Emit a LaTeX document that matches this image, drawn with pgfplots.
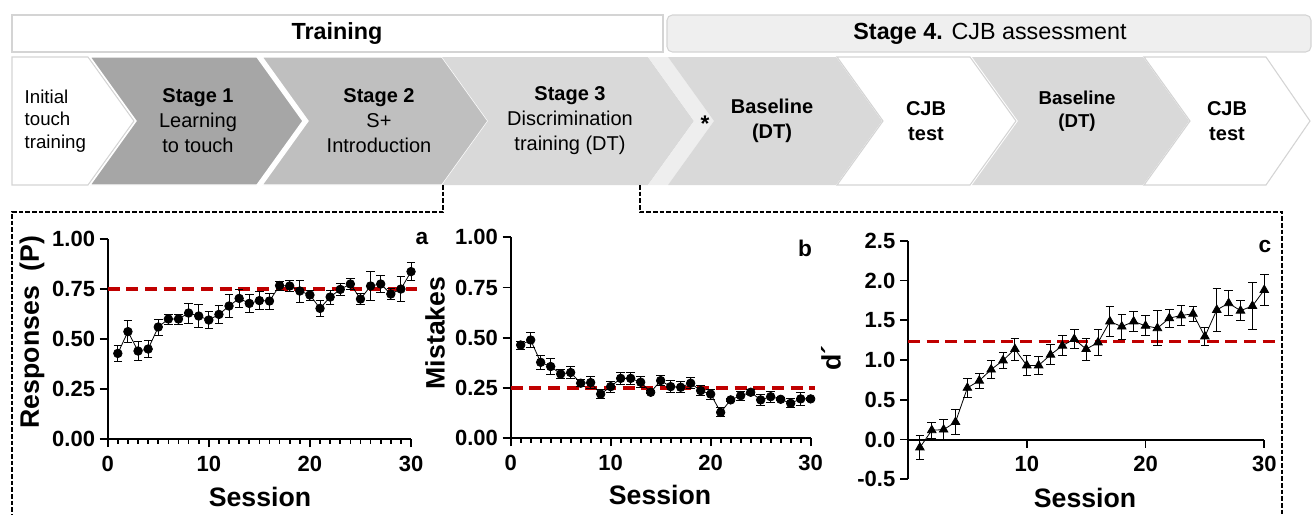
\documentclass[border=0pt]{standalone}
\usepackage{fontspec}
\setmainfont{Liberation Sans}
\usepackage{pgfplots}
\usepackage{pgfplotstable}
\pgfplotsset{compat=1.18}
\definecolor{refred}{HTML}{C00000}
\definecolor{gA}{HTML}{A6A6A6}
\definecolor{gB}{HTML}{BFBFBF}
\definecolor{gC}{HTML}{D9D9D9}
\definecolor{gD}{HTML}{EEEEEE}
\definecolor{gE}{HTML}{EFEFEF}
\definecolor{edge}{HTML}{D4D4D4}

\pgfplotstableread{
s m e
1 0.428 0.042
2 0.537 0.054
3 0.440 0.047
4 0.450 0.042
5 0.560 0.040
6 0.600 0.025
7 0.600 0.025
8 0.630 0.050
9 0.615 0.058
10 0.595 0.043
11 0.623 0.044
12 0.665 0.056
13 0.703 0.045
14 0.678 0.043
15 0.692 0.044
16 0.690 0.040
17 0.767 0.023
18 0.765 0.026
19 0.740 0.055
20 0.720 0.025
21 0.653 0.040
22 0.710 0.035
23 0.748 0.029
24 0.775 0.028
25 0.700 0.028
26 0.765 0.073
27 0.775 0.042
28 0.725 0.027
29 0.750 0.064
30 0.837 0.044
}\tabA

\pgfplotstableread{
s m e
1 0.464 0.020
2 0.489 0.037
3 0.378 0.035
4 0.357 0.039
5 0.320 0.024
6 0.327 0.029
7 0.274 0.017
8 0.277 0.029
9 0.220 0.022
10 0.257 0.028
11 0.298 0.028
12 0.298 0.028
13 0.279 0.027
14 0.229 0.008
15 0.287 0.024
16 0.257 0.031
17 0.254 0.027
18 0.274 0.027
19 0.237 0.026
20 0.220 0.025
21 0.129 0.022
22 0.191 0.008
23 0.212 0.023
24 0.229 0.012
25 0.191 0.026
26 0.207 0.028
27 0.194 0.008
28 0.174 0.023
29 0.196 0.031
30 0.196 0.008
}\tabB

\pgfplotstableread{
s m e
1 -0.10 0.146
2 0.117 0.100
3 0.125 0.130
4 0.220 0.160
5 0.650 0.120
6 0.740 0.094
7 0.880 0.115
8 0.995 0.100
9 1.137 0.140
10 0.932 0.130
11 0.932 0.115
12 1.066 0.127
13 1.180 0.123
14 1.263 0.120
15 1.137 0.140
16 1.220 0.160
17 1.484 0.190
18 1.420 0.157
19 1.484 0.130
20 1.430 0.127
21 1.400 0.220
22 1.526 0.113
23 1.560 0.125
24 1.580 0.090
25 1.296 0.113
26 1.630 0.270
27 1.714 0.157
28 1.620 0.125
29 1.680 0.300
30 1.880 0.200
}\tabC

\pgfplotsset{
  panel/.style={
    scale only axis, anchor=south west, clip=false,
    axis line style={line width=1.6pt},
    every tick/.style={line width=1.3pt, black},
    tick align=outside, major tick length=6pt, minor tick length=3.5pt,
    tick label style={font=\fontsize{16.5}{16.5}\selectfont\bfseries},
    xticklabel style={yshift=-3pt},
    label style={font=\fontsize{20}{20}\selectfont\bfseries},
  },
  refline/.style={refred, line width=2.3pt, dash pattern=on 9pt off 5pt, forget plot},
  series/.style 2 args={black, line width=0.6pt, mark=#2, mark size=#1, mark options={fill=black, solid},
    error bars/.cd, y dir=both, y explicit,
    error bar style={line width=0.7pt, black},
    error mark options={rotate=90, mark size=3.2pt, line width=0.7pt, black}},
}

\begin{document}
\begin{tikzpicture}
\useasboundingbox (0pt,0pt) rectangle (984pt,-386.25pt);
\begin{scope}[x=0.75pt, y=-0.75pt]
  % header boxes
  \draw[edge, line width=0.8pt, fill=white] (12,15) rectangle (663,52);
  \draw[edge, line width=0.8pt, fill=gE, rounded corners=4pt] (667,15) rectangle (1311,52);
  \node[font=\fontsize{17.5}{17.5}\selectfont\bfseries] at (337,34) {Training};
  \node[font=\fontsize{17.5}{17.5}\selectfont] at (990,34) {\textbf{Stage 4.} CJB assessment};
  % chevrons
  \draw[edge, line width=0.8pt, fill=white] (12,57) -- (88,57) -- (134,121) -- (88,185) -- (12,185) -- cycle;
  \draw[white, line width=1pt, fill=gA] (90,57) -- (257,57) -- (303,121) -- (257,185) -- (90,185) -- (136,121) -- cycle;
  \draw[white, line width=1pt, fill=gB] (262,57) -- (442,57) -- (488,121) -- (442,185) -- (262,185) -- (308,121) -- cycle;
  \fill[gC] (442,57) -- (648,57) -- (694,121) -- (648,185) -- (442,185) -- (488,121) -- cycle;
  \fill[gD] (648,57) -- (668,57) -- (714,121) -- (668,185) -- (648,185) -- (694,121) -- cycle;
  \fill[gC] (668,57) -- (836,57) -- (882,121) -- (836,185) -- (668,185) -- (714,121) -- cycle;
  \draw[edge, line width=0.8pt, fill=white] (837,57) -- (970,57) -- (1016,121) -- (970,185) -- (837,185) -- (883,121) -- cycle;
  \fill[gC] (972,57) -- (1143,57) -- (1189,121) -- (1143,185) -- (972,185) -- (1018,121) -- cycle;
  \draw[edge, line width=0.8pt, fill=white] (1144,57) -- (1266,57) -- (1310,121) -- (1266,185) -- (1144,185) -- (1190,121) -- cycle;
  % chevron texts
  \node[anchor=west, align=left, font=\fontsize{14}{17}\selectfont] at (20,121) {Initial\\touch\\training};
  \node[align=center, font=\fontsize{15}{18.75}\selectfont] at (198,121) {\textbf{Stage 1}\\Learning\\to touch};
  \node[align=center, font=\fontsize{15}{18.75}\selectfont] at (379,121) {\textbf{Stage 2}\\S+\\Introduction};
  \node[align=center, font=\fontsize{15}{18.75}\selectfont] at (570,121) {\textbf{Stage 3}\\Discrimination\\training (DT)};
  \node[font=\fontsize{17}{17}\selectfont\bfseries] at (705,124) {*};
  \node[align=center, font=\fontsize{15}{18.75}\selectfont\bfseries] at (772,121) {Baseline\\(DT)};
  \node[align=center, font=\fontsize{15}{18.75}\selectfont\bfseries] at (926,121) {CJB\\test};
  \node[align=center, font=\fontsize{14}{17.25}\selectfont\bfseries] at (1077,111) {Baseline\\(DT)};
  \node[align=center, font=\fontsize{15}{18.75}\selectfont\bfseries] at (1227,121) {CJB\\test};
  % dashed connectors
  \draw[black, line width=1pt, dash pattern=on 3.5pt off 1.5pt] (443,185) -- (443,212) -- (12,212) -- (12,515);
  \draw[black, line width=1pt, dash pattern=on 3.5pt off 1.5pt] (640,185) -- (640,212) -- (1282,212) -- (1282,515);
\end{scope}

% Panel a
\begin{axis}[panel, at={(80.78pt,-329.25pt)}, width=227.5pt, height=150pt,
  axis lines*=left,
  xmin=0, xmax=30, ymin=0, ymax=1,
  xtick={0,10,20,30}, xticklabels={0,10,20,30}, minor x tick num=9,
  ytick={0,0.25,0.5,0.75,1}, yticklabels={0.00,0.25,0.50,0.75,1.00},
  xlabel={Session}, ylabel={Responses\ \ (P)},
  xlabel style={at={(rel axis cs:0.502,-0.288)}, anchor=center},
  ylabel style={at={(rel axis cs:-0.2496,0.535)}, anchor=center},
]
\addplot[refline] coordinates {(0,0.75) (30.6,0.75)};
\addplot[series={3.2pt}{*}] table[x=s, y=m, y error=e] {\tabA};
\node[font=\fontsize{17}{17}\selectfont\bfseries] at (rel axis cs:1.036,1.0) {a};
\end{axis}

% Panel b
\begin{axis}[panel, at={(383.0pt,-328.7pt)}, width=225pt, height=150.75pt,
  axis lines*=left,
  xmin=0, xmax=30, ymin=0, ymax=1,
  xtick={0,10,20,30}, xticklabels={0,10,20,30}, minor x tick num=9,
  ytick={0,0.25,0.5,0.75,1}, yticklabels={0.00,0.25,0.50,0.75,1.00},
  xlabel={Session}, ylabel={Mistakes},
  xlabel style={at={(rel axis cs:0.498,-0.282)}, anchor=center},
  ylabel style={at={(rel axis cs:-0.252,0.524)}, anchor=center},
]
\addplot[refline] coordinates {(0,0.25) (30.4,0.25)};
\addplot[series={3.2pt}{*}] table[x=s, y=m, y error=e] {\tabB};
\node[font=\fontsize{17}{17}\selectfont\bfseries] at (rel axis cs:0.981,0.947) {b};
\end{axis}

% Panel c
\begin{axis}[panel, at={(681pt,-359.5pt)}, width=267.2pt, height=179pt,
  axis x line*=middle, axis y line*=left,
  xmin=0, xmax=30, ymin=-0.5, ymax=2.5,
  xtick={10,20,30}, xticklabels={10,20,30},
  ytick={-0.5,0,0.5,1,1.5,2,2.5}, yticklabels={-0.5,0.0,0.5,1.0,1.5,2.0,2.5},
  xlabel={Session}, ylabel={d´},
  xlabel style={at={(rel axis cs:0.497,-0.078)}, anchor=center},
  ylabel style={at={(rel axis cs:-0.216,0.508)}, anchor=center},
]
\addplot[refline] coordinates {(0,1.235) (31.3,1.235)};
\addplot[series={3.7pt}{triangle*}] table[x=s, y=m, y error=e] {\tabC};
\node[font=\fontsize{17}{17}\selectfont\bfseries] at (rel axis cs:1.002,0.975) {c};
\end{axis}
\end{tikzpicture}
\end{document}
